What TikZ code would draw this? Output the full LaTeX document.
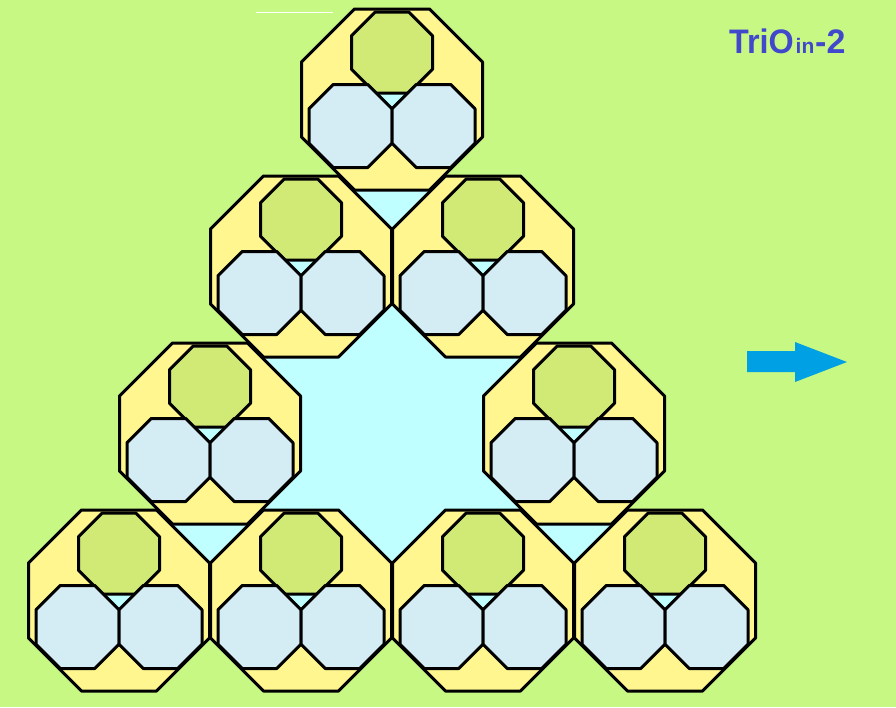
\documentclass[tikz,border=0pt]{standalone}
\usepackage{graphicx}
\usepackage{fontspec}
\setmainfont{Liberation Sans}
\definecolor{bgc}{RGB}{200,248,132}
\definecolor{yel}{RGB}{255,246,143}
\definecolor{grn}{RGB}{209,234,118}
\definecolor{blu}{RGB}{212,236,243}
\definecolor{cya}{RGB}{192,255,255}
\definecolor{ttl}{RGB}{66,72,204}
\definecolor{arr}{RGB}{0,160,228}
\tikzset{
  edge/.style={draw=black, line width=3pt, line join=round},
  bigoct/.style={edge, fill=yel},
  greenoct/.style={edge, fill=grn},
  blueoct/.style={edge, fill=blu},
  gapfill/.style={fill=cya},
  titletext/.style={text=ttl, inner sep=0pt, anchor=base west},
}
% octagon: style, cx, cy, apothem
\newcommand\octo[4]{%
  \path[#1] ({#2-0.41421*#4},{#3-#4}) -- ({#2+0.41421*#4},{#3-#4})
    -- ({#2+#4},{#3-0.41421*#4}) -- ({#2+#4},{#3+0.41421*#4})
    -- ({#2+0.41421*#4},{#3+#4}) -- ({#2-0.41421*#4},{#3+#4})
    -- ({#2-#4},{#3+0.41421*#4}) -- ({#2-#4},{#3-0.41421*#4}) -- cycle;}
% one unit at cx, cy
\newcommand\unitat[2]{%
  \octo{bigoct}{#1}{#2}{90.5}
  \fill[gapfill] ({#1-16.8},{#2-6.5}) -- ({#1+16.8},{#2-6.5}) -- ({#1},{#2+9.3}) -- cycle;
  \octo{greenoct}{#1}{#2-47}{40.5}
  \octo{blueoct}{#1-41.5}{#2+26.5}{41.5}
  \octo{blueoct}{#1+41.5}{#2+26.5}{41.5}}
\begin{document}
\begin{tikzpicture}[x=1pt,y=-1pt]
\fill[bgc] (0,0) rectangle (896,707);
\useasboundingbox (0,0) rectangle (896,707);
\draw[white, line width=0.8pt] (256,12) -- (333,12);
% central gap
\fill[gapfill] (392,99.5) -- (119,600.5) -- (665,600.5) -- cycle;
% row 4
\unitat{119}{600.5}
\unitat{301}{600.5}
\unitat{483}{600.5}
\unitat{665}{600.5}
% row 3
\unitat{210}{433.5}
\unitat{574}{433.5}
% row 2
\unitat{301}{266.5}
\unitat{483}{266.5}
% row 1
\unitat{392}{99.5}
% title
\node[titletext, font=\bfseries\fontsize{34}{34}\selectfont] (t1) at (729,53.5) {\scalebox{0.95}[1]{TriO}};
\node[titletext, font=\bfseries\fontsize{21}{21}\selectfont] (t2) at (795.5,53.5) {in};
\node[titletext, font=\bfseries\fontsize{34}{34}\selectfont] (t3) at (815,53.5) {-2};
% arrow
\fill[arr] (747,351) -- (795,351) -- (795,342) -- (847,362) -- (795,382) -- (795,372) -- (747,372) -- cycle;
\end{tikzpicture}
\end{document}
